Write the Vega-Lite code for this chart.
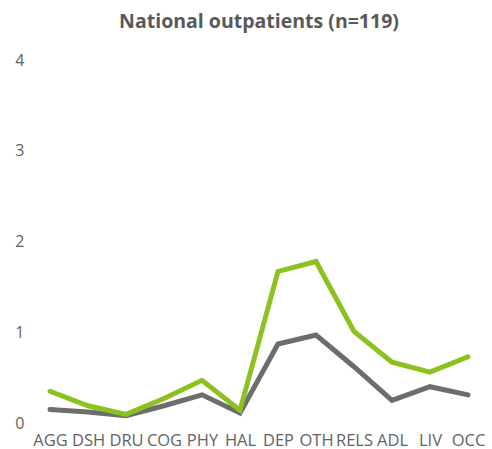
{
  "$schema": "https://vega.github.io/schema/vega-lite/v6.json",
  "autosize": {"type": "none"},
  "width": 456,
  "height": 363,
  "padding": {"left": 31, "top": 60, "right": 5, "bottom": 26},
  "background": "white",
  "title": {
    "text": "National outpatients (n=119)",
    "font": "Open Sans",
    "fontSize": 19.5,
    "fontWeight": "bold",
    "color": "#595959",
    "anchor": "middle",
    "offset": 20
  },
  "data": {
    "values": [
      {"cat": "AGG", "series": "Series2", "value": 0.15},
      {"cat": "DSH", "series": "Series2", "value": 0.12},
      {"cat": "DRU", "series": "Series2", "value": 0.08},
      {"cat": "COG", "series": "Series2", "value": 0.19},
      {"cat": "PHY", "series": "Series2", "value": 0.31},
      {"cat": "HAL", "series": "Series2", "value": 0.11},
      {"cat": "DEP", "series": "Series2", "value": 0.87},
      {"cat": "OTH", "series": "Series2", "value": 0.97},
      {"cat": "RELS", "series": "Series2", "value": 0.62},
      {"cat": "ADL", "series": "Series2", "value": 0.25},
      {"cat": "LIV", "series": "Series2", "value": 0.40},
      {"cat": "OCC", "series": "Series2", "value": 0.31},
      {"cat": "AGG", "series": "Series1", "value": 0.35},
      {"cat": "DSH", "series": "Series1", "value": 0.19},
      {"cat": "DRU", "series": "Series1", "value": 0.095},
      {"cat": "COG", "series": "Series1", "value": 0.27},
      {"cat": "PHY", "series": "Series1", "value": 0.47},
      {"cat": "HAL", "series": "Series1", "value": 0.14},
      {"cat": "DEP", "series": "Series1", "value": 1.67},
      {"cat": "OTH", "series": "Series1", "value": 1.78},
      {"cat": "RELS", "series": "Series1", "value": 1.01},
      {"cat": "ADL", "series": "Series1", "value": 0.67},
      {"cat": "LIV", "series": "Series1", "value": 0.56},
      {"cat": "OCC", "series": "Series1", "value": 0.73}
    ]
  },
  "mark": {"type": "line", "strokeWidth": 5, "strokeCap": "round"},
  "encoding": {
    "x": {
      "field": "cat",
      "type": "nominal",
      "sort": null,
      "scale": {"type": "point", "padding": 0.5},
      "axis": {
        "title": null,
        "labelAngle": 0,
        "domain": false,
        "ticks": false,
        "labelFont": "Open Sans",
        "labelFontSize": 16.5,
        "labelColor": "#636363",
        "labelPadding": 9
      }
    },
    "y": {
      "field": "value",
      "type": "quantitative",
      "scale": {"domain": [0, 4], "nice": false},
      "axis": {
        "title": null,
        "values": [0, 1, 2, 3, 4],
        "domain": false,
        "ticks": false,
        "grid": false,
        "labelFont": "Open Sans",
        "labelFontSize": 16,
        "labelColor": "#636363",
        "labelPadding": 7
      }
    },
    "color": {
      "field": "series",
      "type": "nominal",
      "scale": {"domain": ["Series1", "Series2"], "range": ["#8CC11F", "#6D6D6D"]},
      "legend": null
    }
  },
  "config": {"view": {"stroke": null}}
}
